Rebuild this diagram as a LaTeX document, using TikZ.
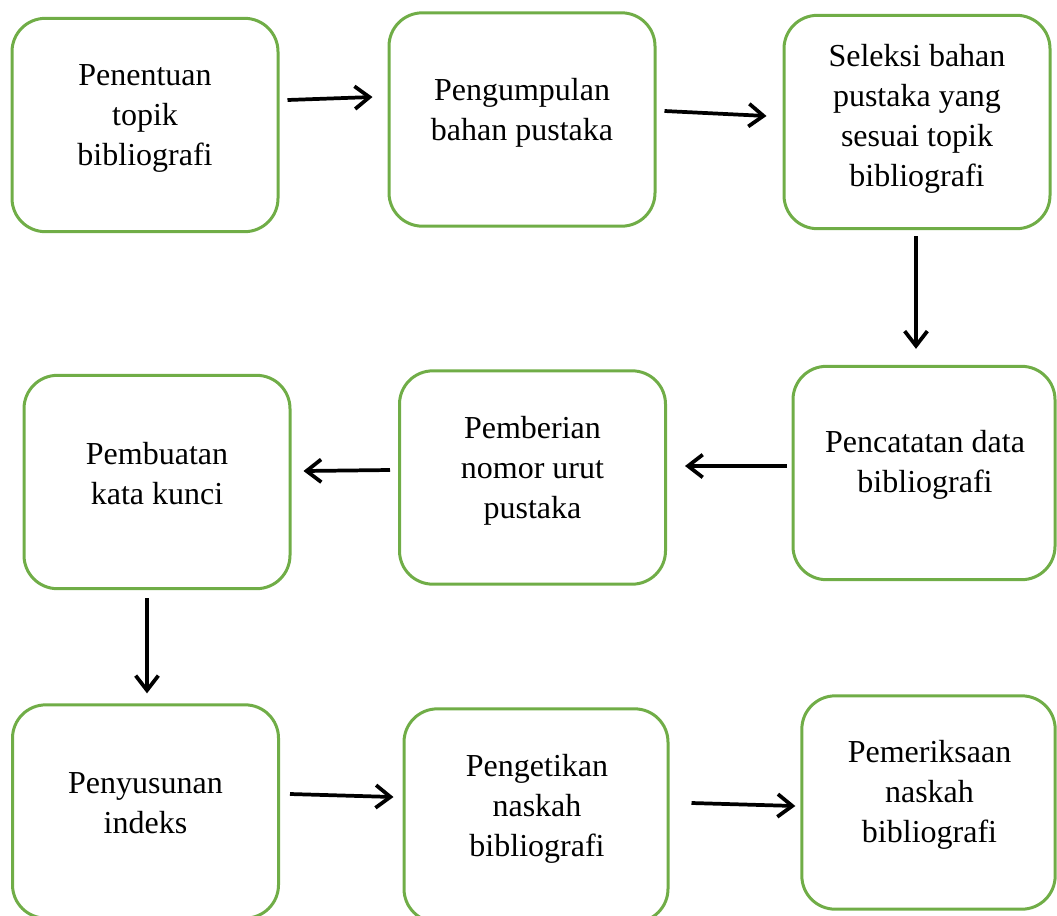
\documentclass[tikz,border=0pt]{standalone}
\usepackage{fontspec}
\setmainfont{Liberation Serif}
\usetikzlibrary{arrows.meta,calc}

\definecolor{boxgreen}{RGB}{112,173,71}

\tikzset{every picture/.style={line width=0.75pt}}
\tikzset{
  stepbox/.style={draw=boxgreen, line width=2.25pt, rounded corners=25pt,
    minimum width=199.5pt, minimum height=160pt, inner sep=0pt},
  steptext/.style={align=center, inner sep=0pt, font=\fontsize{24}{30}\selectfont},
  flow/.style={draw=black, line width=2.8pt, -{Straight Barb[length=11pt,width=17pt,line width=2.8pt]}}
}

\begin{document}
\begin{tikzpicture}[x=0.75pt,y=0.75pt,yscale=-1,xscale=1]
	\useasboundingbox (0,0) rectangle (1057,915);

	%Shape: Rounded Rect [row 1]
	\node[stepbox] (b1) at (145,125) {};
	\node[stepbox] (b2) at (522,119.5) {};
	\node[stepbox] (b3) at (917,122) {};
	%Shape: Rounded Rect [row 2]
	\node[stepbox, minimum width=196.5pt] (b4) at (924,473) {};
	\node[stepbox] (b5) at (532.5,477.5) {};
	\node[stepbox] (b6) at (157,482) {};
	%Shape: Rounded Rect [row 3]
	\node[stepbox] (b7) at (145.5,811.5) {};
	\node[stepbox, minimum width=198pt] (b8) at (536,815.5) {};
	\node[stepbox, minimum width=190pt] (b9) at (928.5,802.5) {};

	% Text Node
	\node[steptext] (t1) at ($(b1.center)+(0,-7)$) {Penentuan\\topik\\bibliografi};
	% Text Node
	\node[steptext] (t2) at ($(b2.center)+(0,-7)$) {Pengumpulan\\bahan pustaka};
	% Text Node
	\node[steptext] (t3) at ($(b3.center)+(0,-3)$) {Seleksi bahan\\pustaka yang\\sesuai topik\\bibliografi};
	% Text Node
	\node[steptext] (t4) at ($(b4.center)+(1,-8)$) {Pencatatan data\\bibliografi};
	% Text Node
	\node[steptext] (t5) at ($(b5.center)+(0,-7)$) {Pemberian\\nomor urut\\pustaka};
	% Text Node
	\node[steptext] (t6) at ($(b6.center)+(0,-8)$) {Pembuatan\\kata kunci};
	% Text Node
	\node[steptext] (t7) at ($(b7.center)+(0,-8)$) {Penyusunan\\indeks};
	% Text Node
	\node[steptext] (t8) at ($(b8.center)+(1,-7)$) {Pengetikan\\naskah\\bibliografi};
	% Text Node
	\node[steptext] (t9) at ($(b9.center)+(1,-8)$) {Pemeriksaan\\naskah\\bibliografi};

	%Straight Lines [arrows]
	\draw[flow] ($(b1.east)+(8,-25)$) -- ($(b2.west)+(-15,-22.5)$);
	\draw[flow] ($(b2.east)+(8,-8.5)$) -- ($(b3.west)+(-16,-6)$);
	\draw[flow] ($(b3.south)+(-1,6)$) -- ($(b4.north)+(-8,-16)$);
	\draw[flow] ($(b4.west)+(-5,-7)$) -- ($(b5.east)+(18,-11.5)$);
	\draw[flow] ($(b5.west)+(-8,-7.5)$) -- ($(b6.east)+(12,-11)$);
	\draw[flow] ($(b6.south)+(-10,8)$) -- ($(b7.north)+(1.5,-10)$);
	\draw[flow] ($(b7.east)+(10,-17.5)$) -- ($(b8.west)+(-9,-18.5)$);
	\draw[flow] ($(b8.east)+(22,-12.5)$) -- ($(b9.west)+(-5,3.5)$);

\end{tikzpicture}
\end{document}
